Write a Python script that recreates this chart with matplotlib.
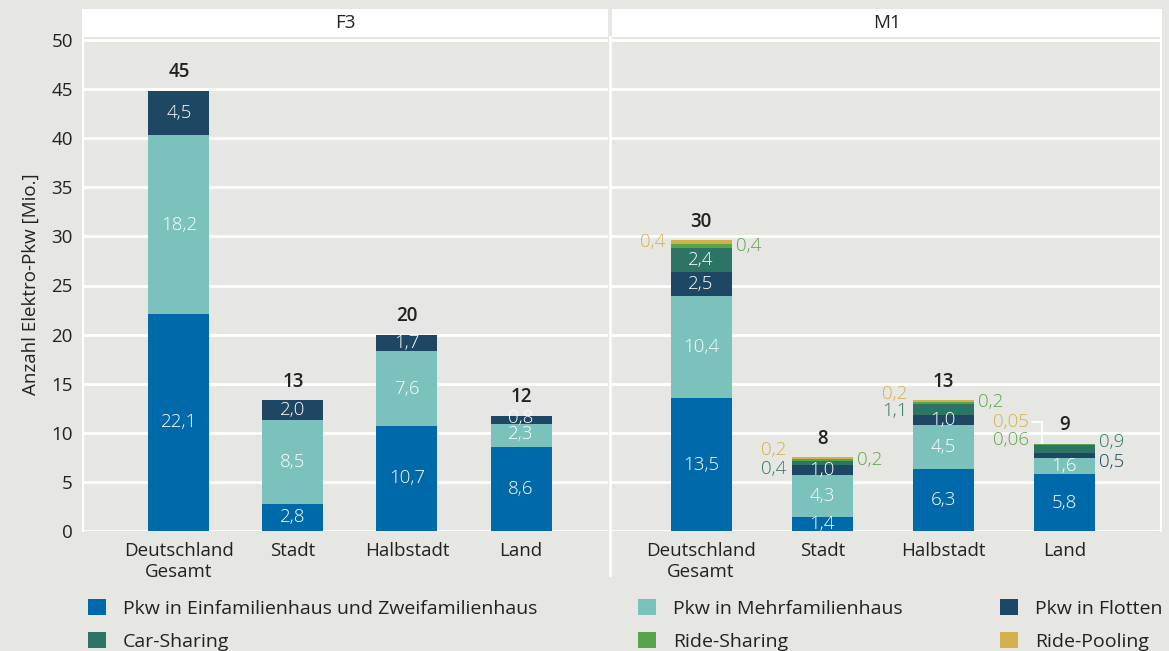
import matplotlib
matplotlib.use("Agg")
import matplotlib.pyplot as plt
from matplotlib.patches import Rectangle, Patch
from matplotlib.lines import Line2D
import numpy as np

# ---------------- data ----------------
categories = ["Deutschland\nGesamt", "Stadt", "Halbstadt", "Land"]
series_names = ["Pkw in Einfamilienhaus und Zweifamilienhaus", "Pkw in Mehrfamilienhaus",
                "Pkw in Flotten", "Car-Sharing", "Ride-Sharing", "Ride-Pooling"]

f3_efh = [22.1, 2.8, 10.7, 8.6]
f3_mfh = [18.2, 8.5, 7.6, 2.3]
f3_flotten = [4.5, 2.0, 1.7, 0.8]
f3_total = [45, 13, 20, 12]

m1_efh = [13.5, 1.4, 6.3, 5.8]
m1_mfh = [10.4, 4.3, 4.5, 1.6]
m1_flotten = [2.5, 1.0, 1.0, 0.5]
m1_carsharing = [2.4, 0.4, 1.1, 0.9]
m1_ridesharing = [0.4, 0.2, 0.2, 0.06]
m1_ridepooling = [0.4, 0.2, 0.2, 0.05]
m1_total = [30, 8, 13, 9]

panels = ["F3", "M1"]

# ---------------- style ----------------
colors = ["#0069aa", "#7ac2bb", "#1d4762", "#2c7564", "#58a44b", "#d2b14a"]
label_colors = ["#0069aa", "#7ac2bb", "#1d4762", "#2f7866", "#5aa64a", "#d4b24c"]
bg = "#e6e6e2"
txt = "#222222"
FONT = ["Open Sans", "DejaVu Sans"]
FS = 13.5
LFS = 14
plt.rcParams["font.family"] = FONT

W, H = 1169, 651
fig = plt.figure(figsize=(W / 100, H / 100), dpi=100, facecolor=bg)

def fx(px):
    return px / W

def fy(py):
    return 1 - py / H

ax_top, ax_bot = 37, 531
ax1 = fig.add_axes([fx(84), fy(ax_bot), fx(608) - fx(84), fy(ax_top) - fy(ax_bot)])
ax2 = fig.add_axes([fx(612), fy(ax_bot), fx(1160) - fx(612), fy(ax_top) - fy(ax_bot)])

ymax = 50 * (ax_bot - ax_top) / (ax_bot - 40)

# label placement for small segments: (series idx, category idx) -> (side, dy in px)
outside_f3 = {(1, 3): ("C", 1), (2, 3): ("C", 2)}
outside_m1 = {
    (4, 0): ("R", 0), (5, 0): ("L", 0),
    (3, 1): ("L", -6), (4, 1): ("R", 0), (5, 1): ("L", 8),
    (3, 2): ("L", -1), (4, 2): ("R", 1), (5, 2): ("L", 7),
    (2, 3): ("R", -6), (3, 3): ("R", 7), (4, 3): ("L", 4), (5, 3): ("L", 22),
}

def fmt(v):
    return f"{v:.2f}".rstrip("0").replace(".", ",") if v < 0.1 else f"{v:.1f}".replace(".", ",")

def draw_panel(ax, data, totals, xlim, width_px, outside):
    ax.set_facecolor(bg)
    x = np.arange(len(categories))
    ax.set_xlim(*xlim)
    ax.set_ylim(0, ymax)
    ax_w_px = ax.get_position().width * W
    width = width_px * (xlim[1] - xlim[0]) / ax_w_px
    unit_px = ax_w_px / (xlim[1] - xlim[0])
    bottom = np.zeros(len(categories))
    for si, vals in enumerate(data):
        vals = np.array(vals, dtype=float)
        ax.bar(x, vals, bottom=bottom, width=width, color=colors[si], zorder=3, linewidth=0)
        for ci in range(len(categories)):
            v = vals[ci]
            yc = bottom[ci] + v / 2
            side, dy = outside.get((si, ci), ("C", 0))
            if side == "L":
                xx, ha, c = x[ci] - width / 2 - 5 / unit_px, "right", label_colors[si]
            elif side == "R":
                xx, ha, c = x[ci] + width / 2 + 4 / unit_px, "left", label_colors[si]
            else:
                xx, ha, c = x[ci], "center", "white"
            ax.annotate(fmt(v), (xx, yc), xytext=(0, dy * 0.72), textcoords="offset points",
                        ha=ha, va="center", fontsize=FS, color=c, zorder=5, fontweight="light")
        bottom = bottom + vals
    for ci in range(len(categories)):
        ax.annotate(f"{totals[ci]}", (x[ci], bottom[ci]), xytext=(0, 13.5), textcoords="offset points",
                    ha="center", va="center", fontsize=FS, fontweight="semibold", color=txt, zorder=5)
    ax.set_xticks(x)
    ax.set_xticklabels(categories, fontsize=FS, color=txt, linespacing=1.2)
    ax.set_yticks(np.arange(0, 51, 5))
    ax.tick_params(length=0, pad=8, labelsize=FS, labelcolor=txt)
    ax.grid(axis="y", color="white", linewidth=2, zorder=0)
    ax.set_axisbelow(True)
    for s in ax.spines.values():
        s.set_visible(False)
    return unit_px, width

u1, w1 = draw_panel(ax1, [f3_efh, f3_mfh, f3_flotten], f3_total, (-0.833, 3.763), 61, outside_f3)
u2, w2 = draw_panel(ax2, [m1_efh, m1_mfh, m1_flotten, m1_carsharing, m1_ridesharing, m1_ridepooling],
                    m1_total, (-0.736, 3.79), 61, outside_m1)
ax2.set_yticklabels([])
ax1.set_ylabel("Anzahl Elektro-Pkw [Mio.]", fontsize=FS, color=txt, labelpad=8)

# leader line for Ride-Pooling in Land (M1)
land_top = sum(v[3] for v in [m1_efh, m1_mfh, m1_flotten, m1_carsharing, m1_ridesharing, m1_ridepooling])
xl = 3 - w2 / 2
ly = land_top + 22 * 50 / 491
ax2.plot([xl - 2 / u2, xl + 8 / u2, xl + 8 / u2], [ly, ly, land_top], color="white", lw=1.2,
         zorder=2, clip_on=False)

# borders / separators
fig.add_artist(Line2D([fx(83), fx(83)], [fy(ax_top), fy(ax_bot)], color="white", lw=1.5))
fig.add_artist(Line2D([fx(610), fx(610)], [fy(ax_top), fy(575)], color="white", lw=2))
fig.add_artist(Line2D([fx(1160.5), fx(1160.5)], [fy(ax_top), fy(ax_bot)], color="white", lw=1.5))

# facet strips
for (x0, x1), name in zip([(82, 608), (612, 1162)], panels):
    fig.add_artist(Rectangle((fx(x0), fy(37)), fx(x1) - fx(x0), fy(9) - fy(37),
                             facecolor="white", edgecolor="none"))
    fig.text(fx((x0 + x1) / 2), fy(23), name, ha="center", va="center", fontsize=FS, color=txt)

# legend
order = [[0, 3], [1, 4], [2, 5]]
col_x = [88, 638, 1000]
for cols, cx in zip(order, col_x):
    handles = [Patch(facecolor=colors[i], edgecolor="none", label=series_names[i]) for i in cols]
    fig.legend(handles=handles, loc="upper left", bbox_to_anchor=(fx(cx), fy(599)), frameon=False,
               handlelength=0.9, handleheight=0.9, handletextpad=0.9, labelspacing=0.72,
               borderpad=0, borderaxespad=0, fontsize=LFS, labelcolor=txt)

fig.savefig("out.png", dpi=100, facecolor=bg)
